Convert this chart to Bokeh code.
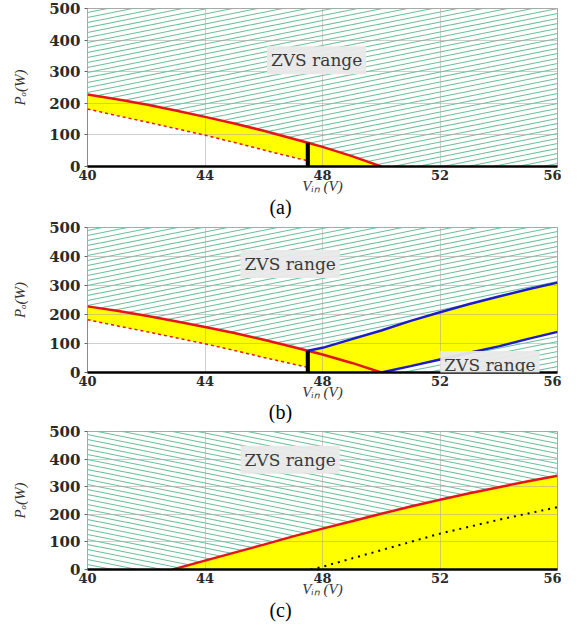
import urllib.parse
from bokeh.plotting import figure
from bokeh.layouts import column
from bokeh.models import Label, ImageURLTexture, Range1d, FixedTicker, Div
from bokeh.embed import file_html
from bokeh.resources import INLINE

# ---------------- data ----------------
x_ticks = [40, 44, 48, 52, 56]
y_ticks = [0, 100, 200, 300, 400, 500]
X_MIN, X_MAX, Y_MIN, Y_MAX = 40, 56, 0, 500

# panels (a) and (b): ZVS boundary (solid red) and dashed red curve
ab_red_x = [40, 41, 42, 43, 44, 45, 46, 47, 47.5, 48, 49, 50]
ab_red_y = [228, 213, 196, 177, 157, 136, 113, 88, 75, 62, 33, 0]
ab_dash_x = [40, 41, 42, 43, 44, 45, 46, 47, 47.5]
ab_dash_y = [182, 161, 141, 120, 99, 76, 52, 29, 18]
bar_x = [47.5]
bar_top = [75]

# panel (b): blue boundaries
b_blue_up_x = [47.5, 48, 49, 50, 51, 52, 53, 54, 55, 56]
b_blue_up_y = [75, 85, 115, 145, 178, 208, 236, 262, 287, 310]
b_blue_lo_x = [50, 51, 52, 53, 54, 55, 56]
b_blue_lo_y = [0, 22, 45, 68, 90, 116, 140]

# panel (c)
c_red_x = [42.9, 44, 45, 46, 47, 48, 49, 50, 51, 52, 53, 54, 55, 56]
c_red_y = [0, 32, 61, 90, 120, 148, 175, 202, 228, 253, 276, 298, 320, 340]
c_dot_x = [47.6, 48, 49, 50, 51, 52, 53, 54, 55, 56]
c_dot_y = [0, 10, 40, 70, 100, 130, 155, 180, 203, 226]

zvs_text = "ZVS range"
captions = ["(a)", "(b)", "(c)"]
x_label = "V\u1d62\u2099 (V)"
y_label = "P\u2092(W)"

# ---------------- styling ----------------
RED = "#e3161b"
BLUE = "#1c1cc8"
YELLOW = "#ffff00"


def svg_tile(direction):
    s, n = 25, 5
    d = s / n
    segs = []
    for k in range(-1, n + 2):
        y0 = k * d
        y1 = y0 - d if direction == "up" else y0 + d
        segs.append(f"<line x1='0' y1='{y0}' x2='{s}' y2='{y1}' "
                    f"stroke='rgb(108,190,156)' stroke-width='1.2'/>")
    svg = (f"<svg xmlns='http://www.w3.org/2000/svg' width='{s}' height='{s}'>"
           + "".join(segs) + "</svg>")
    return "data:image/svg+xml;utf8," + urllib.parse.quote(svg)


def base_fig(height, top):
    p = figure(width=561, height=height, output_backend="svg", toolbar_location=None,
               x_range=Range1d(X_MIN, X_MAX), y_range=Range1d(Y_MIN, Y_MAX),
               min_border_left=87, min_border_right=4, min_border_top=top,
               min_border_bottom=0)
    p.background_fill_color = "white"
    p.border_fill_color = "white"
    p.outline_line_color = "#8c8c8c"
    p.outline_line_width = 1
    p.xaxis.ticker = FixedTicker(ticks=x_ticks)
    p.yaxis.ticker = FixedTicker(ticks=y_ticks)
    for g in (p.xgrid, p.ygrid):
        g.grid_line_color = "#a8a8a8"
        g.grid_line_alpha = 0.55
        g.level = "underlay"
    p.xgrid.ticker = FixedTicker(ticks=x_ticks[1:-1])
    p.ygrid.ticker = FixedTicker(ticks=y_ticks[1:-1])
    for ax in (p.xaxis, p.yaxis):
        ax.major_label_text_font = "DejaVu Serif"
        ax.major_label_text_font_style = "bold"
        ax.major_label_text_color = "#2a2a2a"
        ax.minor_tick_line_color = None
        ax.axis_label_text_font = "Liberation Serif"
        ax.axis_label_text_font_style = "italic"
        ax.axis_label_text_font_size = "15px"
        ax.axis_label_text_color = "#333333"
    p.yaxis.major_label_text_font_size = "15px"
    p.xaxis.major_label_text_font_size = "13px"
    p.xaxis.major_label_text_line_height = 0.9
    p.xaxis.axis_label_text_line_height = 0.9
    p.xaxis.axis_line_color = "black"
    p.xaxis.axis_line_width = 2.5
    p.xaxis.major_tick_line_color = None
    p.xaxis.major_tick_out = 0
    p.xaxis.major_tick_in = 0
    p.xaxis.major_label_standoff = 3
    p.xaxis.axis_label = x_label
    p.xaxis.axis_label_standoff = -5
    p.yaxis.axis_line_color = None
    p.yaxis.major_tick_line_color = "#666666"
    p.yaxis.major_tick_out = 3
    p.yaxis.major_tick_in = 0
    p.yaxis.major_label_standoff = 4
    p.yaxis.axis_label = y_label
    p.yaxis.axis_label_standoff = 18
    return p


def caption_div(text, height):
    return Div(text=text, width=561, height=height, margin=0,
               styles={"text-align": "center", "font-family": "Liberation Serif",
                       "font-size": "20px", "line-height": f"{height}px", "color": "black",
                       "width": "561px"})


def hatch_patch(p, xs, ys, direction):
    r = p.patch(xs, ys, fill_color="white", line_color=None,
                hatch_pattern="zvs", hatch_extra={"zvs": ImageURLTexture(url=svg_tile(direction))},
                hatch_scale=25)
    r.level = "image"
    return r


def yellow_patch(p, xs, ys):
    r = p.patch(xs, ys, fill_color=YELLOW, line_color=None)
    r.level = "image"
    return r


def zvs_label(p, x, y):
    p.add_layout(Label(x=x, y=y, text=zvs_text, text_align="center", text_baseline="middle",
                       text_font="DejaVu Serif", text_font_size="17px", text_color="#3a3a3a",
                       background_fill_color="#e9e9e9", background_fill_alpha=0.95,
                       padding=4))


# ---------------- panel (a) ----------------
pa = base_fig(196, 8)
hatch_patch(pa, ab_red_x + [X_MAX, X_MAX, X_MIN], ab_red_y + [Y_MIN, Y_MAX, Y_MAX], "up")
yellow_patch(pa, ab_red_x + bar_x + ab_dash_x[::-1], ab_red_y + [Y_MIN] + ab_dash_y[::-1])
pa.line(ab_dash_x, ab_dash_y, line_color=RED, line_width=1.5, line_dash="3 3")
pa.line(ab_red_x, ab_red_y, line_color=RED, line_width=2.5)
pa.vbar(x=bar_x, top=bar_top, bottom=0, width=0.14, fill_color="black", line_color=None)
zvs_label(pa, 47.8, 336)

# ---------------- panel (b) ----------------
n_ab = ab_red_x.index(bar_x[0])
up_x = ab_red_x[:n_ab] + b_blue_up_x
up_y = ab_red_y[:n_ab] + b_blue_up_y
lo_x = ab_dash_x + bar_x + b_blue_lo_x
lo_y = ab_dash_y + [Y_MIN] + b_blue_lo_y
pb = base_fig(184, 9)
hatch_patch(pb, up_x + [X_MAX, X_MIN], up_y + [Y_MAX, Y_MAX], "up")
hatch_patch(pb, b_blue_lo_x + [X_MAX], b_blue_lo_y + [Y_MIN], "up")
yellow_patch(pb, up_x + lo_x[::-1], up_y + lo_y[::-1])
pb.line(ab_dash_x, ab_dash_y, line_color=RED, line_width=1.5, line_dash="3 3")
pb.line(ab_red_x, ab_red_y, line_color=RED, line_width=2.5)
pb.line(b_blue_up_x, b_blue_up_y, line_color=BLUE, line_width=2.5)
pb.line(b_blue_lo_x, b_blue_lo_y, line_color=BLUE, line_width=2.5)
pb.vbar(x=bar_x, top=bar_top, bottom=0, width=0.14, fill_color="black", line_color=None)
zvs_label(pb, 46.9, 374)
zvs_label(pb, 53.7, 26)

# ---------------- panel (c) ----------------
pc = base_fig(177, 9)
hatch_patch(pc, [X_MIN] + c_red_x + [X_MAX, X_MIN], [Y_MIN] + c_red_y + [Y_MAX, Y_MAX], "down")
yellow_patch(pc, c_red_x + [X_MAX], c_red_y + [Y_MIN])
pc.line(c_dot_x, c_dot_y, line_color="black", line_width=2, line_dash="2 5")
pc.line(c_red_x, c_red_y, line_color=RED, line_width=2.5)
zvs_label(pc, 46.9, 398)

layout = column(pa, caption_div(captions[0], 22), pb, caption_div(captions[1], 20),
                pc, caption_div(captions[2], 22), spacing=0)
open("out.html", "w").write(file_html(layout, INLINE))
